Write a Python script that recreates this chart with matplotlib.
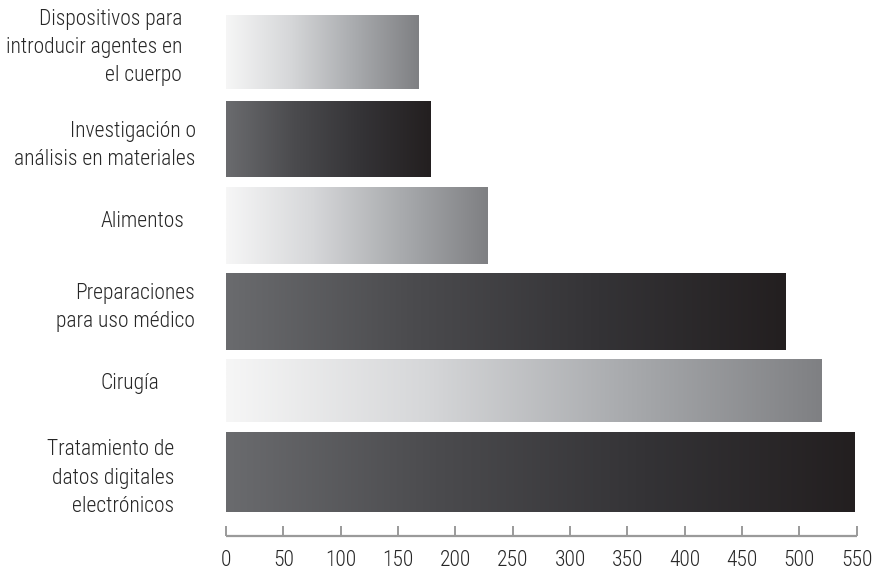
import matplotlib
matplotlib.use("Agg")
import matplotlib.pyplot as plt
import numpy as np
from matplotlib.colors import LinearSegmentedColormap
from matplotlib.transforms import blended_transform_factory

# ---- data ----
categories = [
    "Dispositivos para\nintroducir agentes en\nel cuerpo",
    "Investigación o\nanálisis en materiales",
    "Alimentos",
    "Preparaciones\npara uso médico",
    "Cirugía",
    "Tratamiento de\ndatos digitales\nelectrónicos",
]
values = [168, 178, 228, 488, 519, 548]
tick_values = list(range(0, 551, 50))

# ---- layout / style ----
row_pos = [0.0, 1.002, 2.003, 3.0, 3.913, 4.853]
row_h = [0.855, 0.879, 0.887, 0.89, 0.725, 0.921]
label_right_px = [182, 195.5, 184, 195, 159, 174]
label_dy = [-0.05, 0.078, -0.042, -0.047, -0.086, 0.072]
styles = ["light", "dark", "light", "dark", "light", "dark"]
cmaps = {
    "light": LinearSegmentedColormap.from_list("l", ["#f6f6f6", "#d6d7d9", "#a9abae", "#7f8083"]),
    "dark": LinearSegmentedColormap.from_list("d", ["#6a6b6e", "#4b4b4e", "#343336", "#231f20"]),
}

plt.rcParams["font.family"] = ["Roboto Condensed", "DejaVu Sans"]
plt.rcParams["font.weight"] = "light"
text_color = "#262626"
axis_color = "#9a9a9a"
fs = 15.5

W, H = 874, 573
fig = plt.figure(figsize=(W / 100, H / 100), dpi=100)
x0_px, x1_px = 226, 856.7
axis_px = 535.7
ax = fig.add_axes([x0_px / W, (H - axis_px) / H, (x1_px - x0_px) / W, axis_px / H])
unit = 86.5

bars = ax.barh(row_pos, values, height=row_h, color="none", edgecolor="none")
grad = np.linspace(0, 1, 256).reshape(1, -1)
for b, st in zip(bars, styles):
    x, y = b.get_x(), b.get_y()
    w, h = b.get_width(), b.get_height()
    im = ax.imshow(grad, cmap=cmaps[st], extent=[x, x + w, y + h, y],
                   aspect="auto", interpolation="bilinear", zorder=2)
    im.set_clip_path(b)
ax.set_xlim(0, 550)
ax.set_ylim((axis_px - 52) / unit, -52 / unit)

# axis styling
for s in ["top", "right", "left"]:
    ax.spines[s].set_visible(False)
ax.spines["bottom"].set_color(axis_color)
ax.spines["bottom"].set_linewidth(1.6)
ax.spines["bottom"].set_capstyle("butt")
ax.set_yticks([])
ax.set_xticks(tick_values)
ax.set_xticklabels([str(v) for v in tick_values])
ax.tick_params(axis="x", direction="in", length=7.2, width=1.4, color=axis_color,
               labelsize=fs, labelcolor=text_color, pad=10.5)
ax.patch.set_visible(False)

tr = blended_transform_factory(fig.transFigure, ax.transData)
for lab, px, yp, dy in zip(categories, label_right_px, row_pos, label_dy):
    ax.text(px / W, yp + dy, lab, transform=tr, ha="right", va="center",
            multialignment="right", fontsize=fs, color=text_color, linespacing=1.45,
            clip_on=False)

fig.savefig("out.png", dpi=100)
